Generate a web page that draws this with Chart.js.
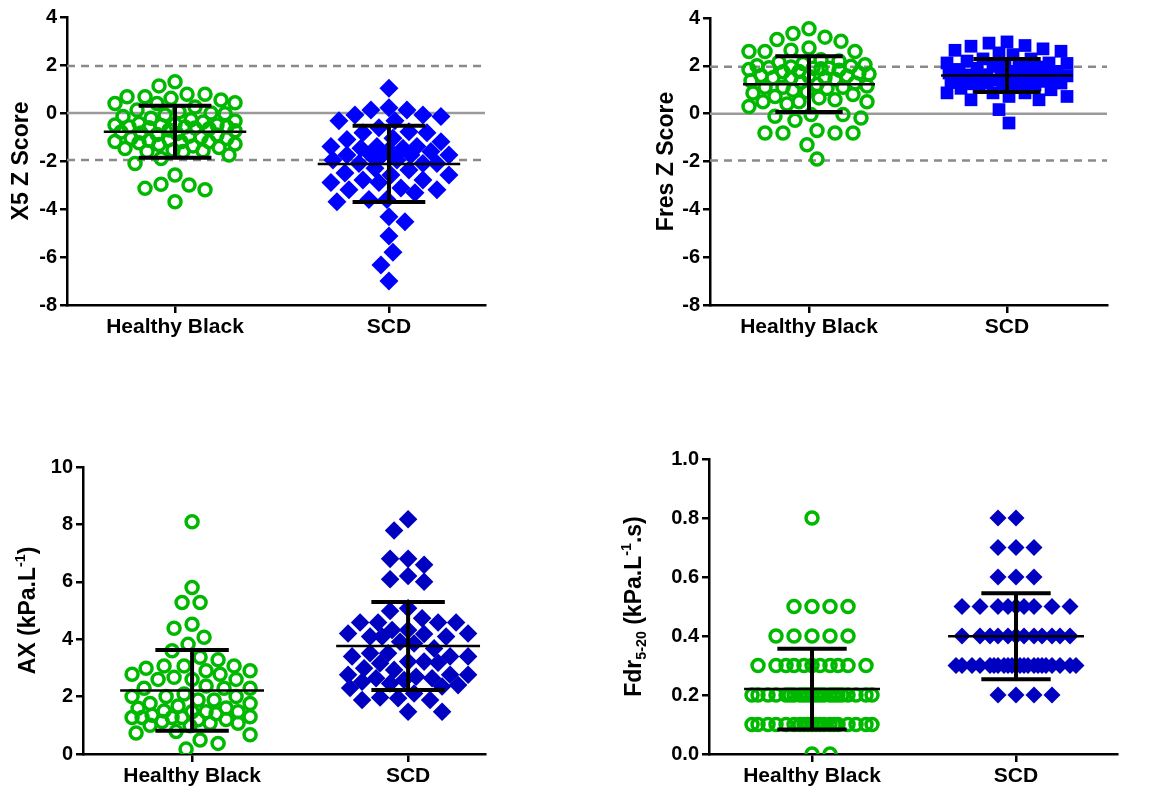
<!DOCTYPE html>
<html>
<head>
<meta charset="utf-8">
<script src="https://cdn.jsdelivr.net/npm/chart.js@4.4.1/dist/chart.umd.min.js"></script>
<style>
    body { margin: 0; background: #fff; width: 1169px; height: 792px; position: relative; overflow: hidden; }
    canvas { position: absolute; }
</style>
</head>
<body>
<canvas id="c1" width="540" height="345" style="left:0;top:0"></canvas>
<canvas id="c2" width="584" height="345" style="left:585px;top:0"></canvas>
<canvas id="c3" width="540" height="392" style="left:0;top:400px"></canvas>
<canvas id="c4" width="584" height="392" style="left:585px;top:400px"></canvas>
<script>
// categories on the x axis
const categories = ['Healthy Black', 'SCD'];

// X5 Z score
const x5Healthy = [1.13, 1.30, 0.54, 0.78, 0.68, 0.61, 0.68, 0.78, 0.43, 0.40, 0.40, -0.03, 0.00, -0.50, -0.57, -0.50, -0.57,
    -1.20, -1.29, -1.20, -1.60, -1.57, -1.60, -1.54, -2.10, -1.90, -1.75, -2.58, -3.00, -3.14, -3.20, -2.97, -3.70,
    0.25, 0.12, 0.05, -0.08, -0.15, -0.22, -0.28, -0.33, -0.38, -0.44, -0.47, -0.52, -0.58, -0.63, -0.66, -0.71,
    -0.74, -0.79, -0.83, -0.86, -0.92, -0.97, -1.02, -1.06, -1.11, -1.14, -1.19, -1.24, -1.31, -1.37, -1.44, -1.48,
    -0.61, -0.90, -1.05];
const x5Scd = [1.03, 0.13, -0.08, 0.22, -0.15, -0.08, 0.13, -0.32, -0.32, -0.61, -0.82, -0.82, -0.78, -1.10, -1.05,
    -1.47, -1.40, -1.40, -1.40, -1.60, -1.54, -1.47, -1.75, -1.96, -1.75, -1.75, -2.10, -1.96, -2.10, -1.75, -2.10,
    -2.38, -2.58, -2.58, -2.50, -2.79, -2.90, -2.90, -2.79, -3.20, -3.32, -3.20, -3.13, -3.60, -3.70, -3.60,
    -4.53, -4.32, -5.13, -5.80, -6.33, -7.00, -1.80, -2.30, -1.20];
const x5Mean = [-0.78, -2.12];
const x5Sd = [1.085, 1.585];

// Fres Z score
const fresHealthy = [3.03, 3.20, 3.35, 3.55, 3.10, 2.65, 2.60, 2.60, 2.60, 2.75, 1.95, 1.90, 1.50, 1.50, 1.10, 1.10,
    0.50, 0.50, 0.50, 0.58, 0.30, 0.40, -0.11, -0.04, -0.04, -0.28, -0.18, -0.81, -0.81, -0.81, -0.81, -0.70, -1.30, -1.90,
    2.25, 2.20, 2.15, 2.10, 2.05, 1.98, 1.92, 1.88, 1.82, 1.76, 1.70, 1.66, 1.60, 1.55, 1.50, 1.44, 1.38, 1.32,
    1.28, 1.22, 1.16, 1.10, 1.05, 0.98, 0.92, 0.86, 0.80, 0.72, 0.66, 1.90, 1.75, 1.58, 1.85, 2.00];
const fresScd = [2.85, 2.71, 2.95, 3.00, 2.82, 2.54, 2.47, 2.65, 2.61, 2.12, 2.29, 2.29, 2.12, 1.77, 1.77, 1.98, 1.98,
    1.28, 1.28, 1.20, 1.20, 0.87, 0.72, 0.58, 0.58, 0.72, 0.87, 0.87, 0.17, -0.39,
    2.20, 2.10, 2.05, 1.95, 1.90, 1.85, 1.80, 1.72, 1.68, 1.63, 1.58, 1.52, 1.48, 1.44, 1.40, 1.36, 1.30, 1.25,
    1.18, 1.12, 1.06, 1.00, 1.55, 1.45, 1.35, 1.62, 1.70, 1.50];
const fresMean = [1.235, 1.60];
const fresSd = [1.165, 0.69];

// AX (kPa.L-1)
const axHealthy = [8.09, 5.80, 5.28, 5.28, 4.38, 4.52, 4.07, 3.82, 3.60, 3.37, 3.28, 3.07, 2.99, 3.07, 3.07, 2.78, 2.78,
    2.90, 2.90, 2.60, 2.60, 2.60, 2.67, 2.37, 2.29, 2.29, 2.29, 2.00, 2.00, 2.00, 2.09, 1.88, 1.76, 1.76, 1.88,
    1.67, 1.59, 1.47, 1.47, 1.27, 1.27, 1.35, 1.47, 1.27, 1.27, 0.98, 1.07, 1.13, 1.07, 1.19, 0.73, 0.78, 0.67,
    0.49, 0.37, 0.17, 1.40, 1.30, 1.20, 1.50, 1.60, 1.00];
const axScd = [8.18, 7.79, 6.80, 6.80, 6.59, 6.20, 6.00, 6.09, 5.08, 4.98, 4.58, 4.58, 4.58, 4.58, 4.73, 4.09, 4.09,
    4.18, 4.20, 4.20, 4.09, 4.32, 4.32, 3.68, 3.91, 3.85, 3.16, 3.22, 3.18, 3.40, 3.40, 3.40, 3.22, 3.51, 3.51,
    2.76, 2.76, 2.99, 2.93, 2.69, 2.76, 2.64, 2.64, 2.46, 2.52, 2.58, 2.40, 2.35, 1.94, 1.88, 2.30, 2.11, 1.88,
    1.97, 1.47, 1.47];
const axMean = [2.215, 3.765];
const axSd = [1.405, 1.535];

// Fdr5-20 (kPa.L-1.s)
const fdrHealthy = [0.8,
    0.5, 0.5, 0.5, 0.5,
    0.4, 0.4, 0.4, 0.4, 0.4,
    0.3, 0.3, 0.3, 0.3, 0.3, 0.3, 0.3, 0.3, 0.3, 0.3, 0.3,
    0.2, 0.2, 0.2, 0.2, 0.2, 0.2, 0.2, 0.2, 0.2, 0.2, 0.2, 0.2, 0.2, 0.2, 0.2, 0.2, 0.2, 0.2, 0.2, 0.2, 0.2, 0.2,
    0.1, 0.1, 0.1, 0.1, 0.1, 0.1, 0.1, 0.1, 0.1, 0.1, 0.1, 0.1, 0.1, 0.1, 0.1, 0.1, 0.1, 0.1, 0.1, 0.1,
    0.0, 0.0];
const fdrScd = [0.8, 0.8,
    0.7, 0.7, 0.7,
    0.6, 0.6, 0.6,
    0.5, 0.5, 0.5, 0.5, 0.5, 0.5, 0.5, 0.5, 0.5,
    0.4, 0.4, 0.4, 0.4, 0.4, 0.4, 0.4, 0.4, 0.4, 0.4, 0.4, 0.4,
    0.3, 0.3, 0.3, 0.3, 0.3, 0.3, 0.3, 0.3, 0.3, 0.3, 0.3, 0.3, 0.3, 0.3, 0.3, 0.3, 0.3, 0.3, 0.3, 0.3, 0.3, 0.3,
    0.2, 0.2, 0.2, 0.2];
const fdrMean = [0.22, 0.399];
const fdrSd = [0.137, 0.146];

// normal limits (+-1.96) and zero line for the Z score panels
const zRefLines = [0, 1.96, -1.96];

const FONT = 'Liberation Sans, Arial, sans-serif';
const GREEN = '#00b800';

// vertical y title with sub/superscripts
const yTitlePlugin = {
    id: 'yTitle',
    afterDraw(chart, args, opts) {
        const c = chart.ctx;
        const size = opts.size;
        const parts = opts.parts.map(p => {
            const s = p.sup || p.sub ? size * 0.62 : size;
            c.font = 'bold ' + s + 'px ' + FONT;
            return { t: p.t, font: c.font, w: c.measureText(p.t).width, dy: p.sup ? -size * 0.36 : (p.sub ? size * 0.3 : 0) };
        });
        const total = parts.reduce((a, p) => a + p.w, 0);
        c.save();
        c.translate(opts.x, (chart.chartArea.top + chart.chartArea.bottom) / 2);
        c.rotate(-Math.PI / 2);
        c.fillStyle = '#000';
        c.textBaseline = 'middle';
        let x = -total / 2;
        parts.forEach(p => {
            c.font = p.font;
            c.fillText(p.t, x, p.dy);
            x += p.w;
        });
        c.restore();
    }
};

// spread points sideways like a column scatter plot
function swarm(values, center, chart, diam, maxHalf) {
    const xs = chart.scales.x, ys = chart.scales.y;
    const unit = xs.getPixelForValue(2) - xs.getPixelForValue(1);
    const idx = values.map((v, i) => i).sort((a, b) => values[b] - values[a]);
    const placed = [];
    const out = new Array(values.length);
    const step = 2;
    idx.forEach((i, n) => {
        const py = ys.getPixelForValue(values[i]);
        let best = 0, bestD = -1, done = false;
        for (let k = 0; k * step <= maxHalf && !done; k++) {
            const signs = k === 0 ? [1] : (n % 2 ? [-1, 1] : [1, -1]);
            for (const sg of signs) {
                const px = sg * k * step;
                let md = Infinity;
                for (const p of placed) {
                    const d = Math.hypot(p[0] - px, p[1] - py);
                    if (d < md) md = d;
                }
                if (md >= diam) { best = px; done = true; break; }
                if (md > bestD + 0.5) { bestD = md; best = px; }
            }
        }
        placed.push([best, py]);
        out[i] = { x: center + best / unit, y: values[i] };
    });
    return out;
}

function buildPanel(o) {
    const ctx = document.getElementById(o.id).getContext('2d');
    const datasets = [];

    (o.refLines || []).forEach(r => {
        datasets.push({
            type: 'line', data: [{ x: o.xMin, y: r }, { x: o.xMax, y: r }],
            borderColor: r === 0 ? '#9a9a9a' : '#8a8a8a', borderWidth: 2.5,
            borderDash: r === 0 ? [] : [8, 6], pointRadius: 0, showLine: true, order: 3
        });
    });

    datasets.push({
        type: 'scatter', data: o.healthy.map(v => ({ x: 1, y: v })),
        pointStyle: 'circle', pointRadius: 6, borderWidth: 3.5,
        borderColor: GREEN, backgroundColor: 'rgba(0,0,0,0)', order: 2
    });
    datasets.push({
        type: 'scatter', data: o.scd.map(v => ({ x: 2, y: v })),
        pointStyle: o.scdStyle, pointRadius: o.scdRadius, borderWidth: 0,
        borderColor: o.scdColor, backgroundColor: o.scdColor, order: 2
    });

    // mean line and SD whiskers
    const meanPts = [], sdPts = [];
    [1, 2].forEach((c, g) => {
        const m = o.mean[g], hi = m + o.sd[g], lo = m - o.sd[g];
        meanPts.push({ x: c - 0.333, y: m }, { x: c + 0.333, y: m }, { x: c + 0.4, y: null });
        sdPts.push({ x: c - 0.17, y: hi }, { x: c + 0.17, y: hi }, { x: c, y: null },
            { x: c, y: hi }, { x: c, y: lo }, { x: c, y: null },
            { x: c - 0.17, y: lo }, { x: c + 0.17, y: lo }, { x: c, y: null });
    });
    datasets.push({ type: 'line', data: meanPts, borderColor: '#000', borderWidth: 2.5, pointRadius: 0, showLine: true, spanGaps: false, order: 1 });
    datasets.push({ type: 'line', data: sdPts, borderColor: '#000', borderWidth: 4, pointRadius: 0, showLine: true, spanGaps: false, borderCapStyle: 'butt', order: 1 });

    const chart = new Chart(ctx, {
        type: 'scatter',
        data: { datasets: datasets },
        options: {
            responsive: false,
            animation: false,
            events: [],
            layout: { padding: { top: o.padTop, right: o.padRight, left: 0, bottom: 0 } },
            plugins: {
                legend: { display: false },
                tooltip: { enabled: false },
                yTitle: { parts: o.title, x: o.titleX, size: 23 }
            },
            scales: {
                x: {
                    type: 'linear', min: o.xMin, max: o.xMax,
                    afterBuildTicks: s => { s.ticks = [{ value: 1 }, { value: 2 }]; },
                    afterFit: s => { s.height = o.xH; },
                    grid: { display: true, drawOnChartArea: false, drawTicks: true, tickLength: 8, color: '#000', lineWidth: 2.5 },
                    border: { display: true, color: '#000', width: 2.5 },
                    ticks: {
                        autoSkip: false, maxRotation: 0, padding: 2, color: '#000',
                        font: { family: FONT, weight: 'bold', size: 21 },
                        callback: v => categories[Math.round(v) - 1]
                    }
                },
                y: {
                    type: 'linear', min: o.yMin, max: o.yMax,
                    afterFit: s => { s.width = o.yW; },
                    grid: { display: true, drawOnChartArea: false, drawTicks: true, tickLength: 7, color: '#000', lineWidth: 2.5 },
                    border: { display: true, color: '#000', width: 2.5 },
                    ticks: {
                        stepSize: o.step, padding: 3, color: '#000',
                        font: { family: FONT, weight: 'bold', size: 20 },
                        callback: v => o.step < 1 ? Number(v).toFixed(1) : String(Math.round(v))
                    }
                }
            }
        },
        plugins: [yTitlePlugin]
    });

    const iH = (o.refLines || []).length;
    chart.data.datasets[iH].data = swarm(o.healthy, 1, chart, 16.5, 60);
    chart.data.datasets[iH + 1].data = swarm(o.scd, 2, chart, 16.5, 60);
    chart.update('none');
    return chart;
}

buildPanel({
    id: 'c1', healthy: x5Healthy, scd: x5Scd, mean: x5Mean, sd: x5Sd, refLines: zRefLines,
    yMin: -8, yMax: 4, step: 2, xMin: 0.495, xMax: 2.449,
    yW: 67, xH: 40, padTop: 17, padRight: 55, titleX: 22,
    scdStyle: 'rectRot', scdRadius: 9.5, scdColor: '#0000ff',
    title: [{ t: 'X5 Z Score' }]
});

buildPanel({
    id: 'c2', healthy: fresHealthy, scd: fresScd, mean: fresMean, sd: fresSd, refLines: zRefLines,
    yMin: -8, yMax: 4, step: 2, xMin: 0.5, xMax: 2.505,
    yW: 125, xH: 40, padTop: 18, padRight: 62, titleX: 82,
    scdStyle: 'rect', scdRadius: 9, scdColor: '#0000ff',
    title: [{ t: 'Fres Z Score' }]
});

buildPanel({
    id: 'c3', healthy: axHealthy, scd: axScd, mean: axMean, sd: axSd,
    yMin: 0, yMax: 10, step: 2, xMin: 0.495, xMax: 2.356,
    yW: 83, xH: 38, padTop: 67, padRight: 55, titleX: 29,
    scdStyle: 'rectRot', scdRadius: 9.3, scdColor: '#0000c0',
    title: [{ t: 'AX (kPa.L' }, { t: '-1', sup: true }, { t: ')' }]
});

buildPanel({
    id: 'c4', healthy: fdrHealthy, scd: fdrScd, mean: fdrMean, sd: fdrSd,
    yMin: 0, yMax: 1, step: 0.2, xMin: 0.495, xMax: 2.495,
    yW: 124, xH: 38, padTop: 59, padRight: 52, titleX: 50,
    scdStyle: 'rectRot', scdRadius: 8.5, scdColor: '#0000c0',
    title: [{ t: 'Fdr' }, { t: '5-20', sub: true }, { t: ' (kPa.L' }, { t: '-1', sup: true }, { t: '.s)' }]
});
</script>
</body>
</html>
